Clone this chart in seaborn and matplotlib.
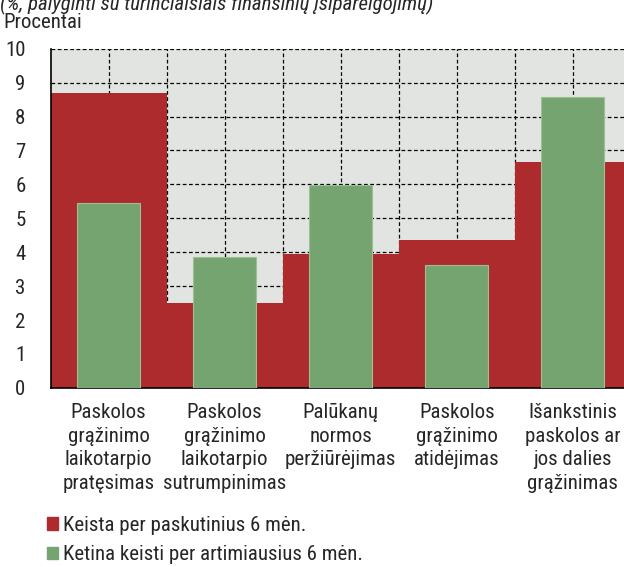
import numpy as np
import pandas as pd
import seaborn as sns
import matplotlib.pyplot as plt
from matplotlib import font_manager
from matplotlib.patches import Patch

categories = [
    "Paskolos\ngrąžinimo\nlaikotarpio\npratęsimas",
    "Paskolos\ngrąžinimo\nlaikotarpio\nsutrumpinimas",
    "Palūkanų\nnormos\nperžiūrėjimas",
    "Paskolos\ngrąžinimo\natidėjimas",
    "Išankstinis\npaskolos ar\njos dalies\ngrąžinimas",
]
changed = [8.7, 2.5, 3.95, 4.35, 6.65]
planned = [5.45, 3.87, 5.98, 3.62, 8.57]
series_names = ["Keista per paskutinius 6 mėn.", "Ketina keisti per artimiausius 6 mėn."]

red = "#AD2A2D"
green = "#76A470"
bg = "#E1E4E1"

sns.set_style("white", {"axes.facecolor": bg})

# narrow font if there is one, else plain Liberation Sans a bit smaller
avail = {f.name for f in font_manager.fontManager.ttflist}
if "Liberation Sans Narrow" in avail:
    fam, fs = "Liberation Sans Narrow", 16
elif "Roboto Condensed" in avail:
    fam, fs = "Roboto Condensed", 15
else:
    fam, fs = "Liberation Sans", 13.5
plt.rcParams["font.family"] = [fam, "DejaVu Sans"]

df = pd.DataFrame({"cat": categories, "changed": changed, "planned": planned})

fig = plt.figure(figsize=(6.24, 5.67), dpi=100)
ax = fig.add_axes([0.081, 0.316, 0.93, 0.598])

sns.barplot(data=df, x="cat", y="changed", color=red, saturation=1, width=1.0,
            linewidth=0, ax=ax, zorder=2)
sns.barplot(data=df, x="cat", y="planned", color=green, saturation=1, width=0.54,
            linewidth=0.8, edgecolor="#9CC096", ax=ax, zorder=3)

ax.set_ylim(0, 10)
ax.set_xlim(-0.5, len(categories) - 0.5)
ax.set_yticks(range(0, 11))
ax.set_xticks(np.arange(len(categories)) + 0.5, minor=True)
ax.grid(True, which="both", color="black", linestyle=(0, (3, 2)), linewidth=0.9, zorder=1)
ax.set_axisbelow(True)
ax.set_xlabel("")
ax.set_ylabel("")
ax.tick_params(axis="both", which="both", length=0, labelsize=fs)
ax.tick_params(axis="y", pad=18)
ax.tick_params(axis="x", pad=11)
for lbl in ax.get_xticklabels():
    lbl.set_linespacing(1.3)
for s in ["top", "right"]:
    ax.spines[s].set_visible(False)
for s in ["left", "bottom"]:
    ax.spines[s].set_color("black")
    ax.spines[s].set_linewidth(1.2)

fig.text(0.0, 1 - 10 / 567, "(%, palyginti su turinčiaisiais finansinių įsipareigojimų)",
         fontsize=fs, style="italic", va="baseline", ha="left")
fig.text(0.006, 1 - 28 / 567, "Procentai", fontsize=fs, va="baseline", ha="left")

handles = [Patch(color=red, label=series_names[0]), Patch(color=green, label=series_names[1])]
fig.legend(handles=handles, loc="upper left", bbox_to_anchor=(0.075, 1 - 516 / 567),
           bbox_transform=fig.transFigure, frameon=False, fontsize=fs,
           handlelength=0.55, handleheight=0.55, handletextpad=0.25, labelspacing=0.5,
           borderaxespad=0, borderpad=0)

fig.savefig("out.png", dpi=100)
